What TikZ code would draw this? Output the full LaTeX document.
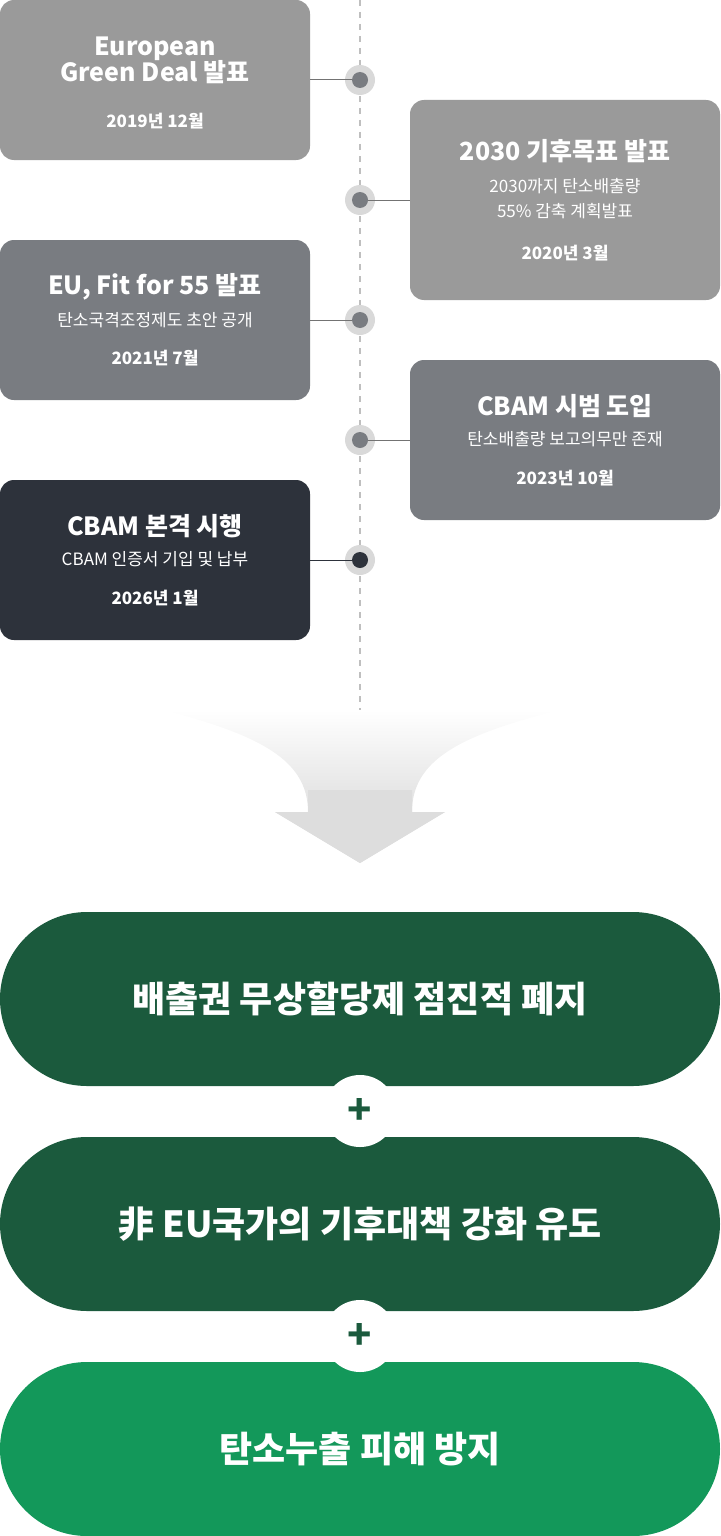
\documentclass[tikz,border=0pt]{standalone}
\usepackage{fontspec}
\setmainfont{Noto Sans CJK KR}
\usetikzlibrary{calc}
\definecolor{g1}{HTML}{9A9A9A}
\definecolor{g2}{HTML}{797C81}
\definecolor{g3}{HTML}{2D323B}
\definecolor{dg}{HTML}{1B5A3D}
\definecolor{lg}{HTML}{13985A}
\definecolor{arr}{HTML}{DDDDDD}
\begin{document}
\begin{tikzpicture}[x=1pt,y=-1pt,
 box/.style={rounded corners=14pt,minimum width=310pt,text=white,align=center,inner sep=0pt},
 t1/.style={font=\bfseries\fontsize{25}{29}\selectfont},
 conn/.style={draw=black!55,line width=1pt},
 halo/.style={circle,fill=black!15,minimum size=30pt,inner sep=0pt},
 pill/.style={rounded corners=87pt,minimum width=720pt,minimum height=174pt,text=white,font=\bfseries\fontsize{36}{40}\selectfont,inner sep=0pt},
 plus/.style={circle,fill=white,minimum size=72pt,inner sep=0pt,text=dg,font=\bfseries\fontsize{40}{40}\selectfont}]
\useasboundingbox (0,0) rectangle (720,1536);
\draw[black!25,dashed,line width=1.2pt,dash pattern=on 6pt off 6pt] (360,0) -- (360,785);
% boxes
\node[box,fill=g1,minimum height=160pt] (b1) at (155,80) {};
\node[box,fill=g1,minimum height=200pt] (b2) at (565,200) {};
\node[box,fill=g2,minimum height=160pt] (b3) at (155,320) {};
\node[box,fill=g2,minimum height=160pt] (b4) at (565,440) {};
\node[box,fill=g3,minimum height=160pt] (b5) at (155,560) {};
\node[text=white,align=center,t1] at (155,60) {European\\[-3pt]Green Deal 발표};
\node[text=white,font=\bfseries\fontsize{17}{20}\selectfont] at (155,121) {2019년 12월};
\node[text=white,t1] at (565,151) {2030 기후목표 발표};
\node[text=white,align=center,font=\fontsize{17}{25}\selectfont] at (565,199) {2030까지 탄소배출량\\55\% 감축 계획발표};
\node[text=white,font=\bfseries\fontsize{17}{20}\selectfont] at (565,253) {2020년 3월};
\node[text=white,t1] at (155,287) {EU, Fit for 55 발표};
\node[text=white,font=\fontsize{17}{20}\selectfont] at (155,320) {탄소국격조정제도 초안 공개};
\node[text=white,font=\bfseries\fontsize{17}{20}\selectfont] at (155,358) {2021년 7월};
\node[text=white,t1] at (565,406) {CBAM 시범 도입};
\node[text=white,font=\fontsize{17}{20}\selectfont] at (565,439) {탄소배출량 보고의무만 존재};
\node[text=white,font=\bfseries\fontsize{17}{20}\selectfont] at (565,478) {2023년 10월};
\node[text=white,t1] at (155,526) {CBAM 본격 시행};
\node[text=white,font=\fontsize{17}{20}\selectfont] at (155,559) {CBAM 인증서 기입 및 납부};
\node[text=white,font=\bfseries\fontsize{17}{20}\selectfont] at (155,598) {2026년 1월};
% dots
\foreach \n/\y/\c in {1/80/g2,2/200/g2,3/320/g2,4/440/g2,5/560/g3}{
 \node[halo] (h\n) at (360,\y) {};
 \node[circle,fill=\c,minimum size=16pt,inner sep=0pt] (d\n) at (360,\y) {};
}
\draw[conn] (b1.east|-d1) -- (d1.west);
\draw[conn] (b2.west|-d2) -- (d2.east);
\draw[conn] (b3.east|-d3) -- (d3.west);
\draw[conn] (b4.west|-d4) -- (d4.east);
\draw[conn,draw=g3] (b5.east|-d5) -- (d5.west);
% arrow
\shade[top color=white,bottom color=arr,shading angle=0,middle color=arr!70] (163,710) .. controls (260,735) and (308,760) .. (308,812) -- (275,812) -- (360,863) -- (445,812) -- (412,812) .. controls (412,760) and (460,735) .. (560,710) -- cycle;
\fill[arr] (308,790) -- (308,812) -- (275,812) -- (360,863) -- (445,812) -- (412,812) -- (412,790) -- cycle;
% pills
\node[pill,fill=dg] (p1) at (360,999) {배출권 무상할당제 점진적 폐지};
\node[pill,fill=dg] (p2) at (360,1224) {非 EU국가의 기후대책 강화 유도};
\node[pill,fill=lg] (p3) at (360,1449) {탄소누출 피해 방지};
\node[plus] (s1) at (360,1111) {+};
\node[plus] (s2) at (360,1336) {+};
\end{tikzpicture}
\end{document}
